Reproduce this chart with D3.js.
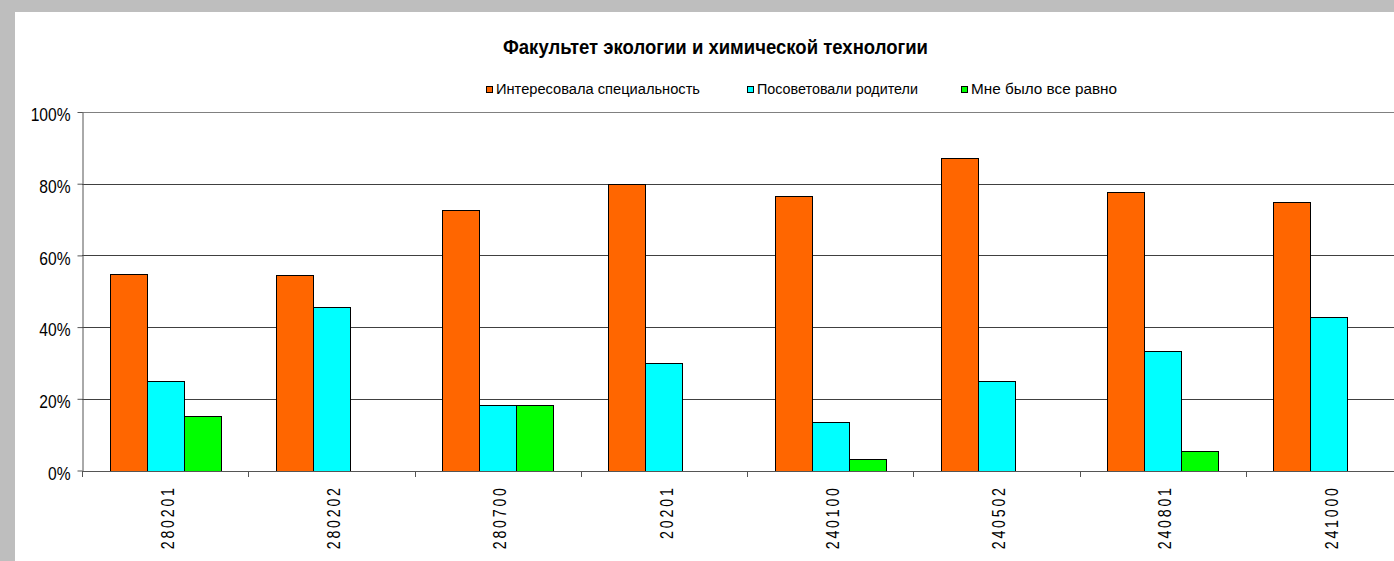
<!DOCTYPE html>
<html lang="ru">
<head>
    <meta charset="UTF-8">
    <title>Факультет экологии и химической технологии</title>
    <script src="https://cdnjs.cloudflare.com/ajax/libs/d3/7.8.5/d3.min.js"></script>
    <style>
        body { margin: 0; background: #bebebe; }
        svg { display: block; font-family: Arial, "Liberation Sans", sans-serif; }
        .grid line { stroke-width: 1px; shape-rendering: crispEdges; }
        .bar { stroke: #000; stroke-width: 1px; shape-rendering: crispEdges; }
    </style>
</head>
<body>
    <svg width="1394" height="561"></svg>

    <script>
        // data (percent)
        const categories = ["280201", "280202", "280700", "20201", "240100", "240502", "240801", "241000"];
        const seriesNames = ["Интересовала специальность", "Посоветовали родители", "Мне было все равно"];
        const interested = [54.8, 54.5, 72.7, 80.0, 76.7, 87.3, 77.7, 75.0];
        const parents    = [25.0, 45.5, 18.2, 30.0, 13.4, 25.0, 33.3, 42.7];
        const indifferent = [15.2, 0, 18.2, 0, 3.3, 0, 5.5, 0];
        const yTicks = [0, 20, 40, 60, 80, 100];
        const colors = ["#ff6600", "#00ffff", "#00ff00"];

        const series = [interested, parents, indifferent];
        const rows = [];
        categories.forEach((c, i) => series.forEach((s, j) => rows.push({ cat: c, key: seriesNames[j], value: s[i] })));

        // the source picture is squeezed sideways, text gets the same treatment
        const squeeze = 0.82;
        function narrow(sel, k) {
            sel.each(function() {
                const w = this.getComputedTextLength();
                d3.select(this).attr("textLength", w * k).attr("lengthAdjust", "spacingAndGlyphs");
            });
        }

        const svg = d3.select("svg");
        svg.append("rect").attr("width", 1394).attr("height", 561).attr("fill", "#bebebe");
        svg.append("rect").attr("x", 15).attr("y", 12).attr("width", 1379).attr("height", 549).attr("fill", "#fff");

        const plotLeft = 82, plotTop = 112, plotBottom = 470.5, plotRight = 1412;

        const x = d3.scaleBand().domain(categories).range([plotLeft, plotRight]).paddingInner(1 / 3).paddingOuter(1 / 6);
        const xs = d3.scaleBand().domain(seriesNames).range([0, x.bandwidth()]);
        const y = d3.scaleLinear().domain([0, 100]).range([plotBottom, plotTop]);

        // gridlines
        svg.append("g").attr("class", "grid")
            .selectAll("line").data(yTicks.filter(t => t > 0)).join("line")
            .attr("x1", plotLeft).attr("x2", 1394)
            .attr("y1", d => Math.round(y(d)) + 0.5).attr("y2", d => Math.round(y(d)) + 0.5)
            .attr("stroke", d => d === 100 ? "#808080" : "#404040");

        // bars
        svg.append("g").selectAll("rect").data(rows.filter(d => d.value > 0)).join("rect")
            .attr("class", "bar")
            .attr("x", d => Math.round(x(d.cat) + xs(d.key)) + 0.5)
            .attr("y", d => Math.round(y(d.value)) + 0.5)
            .attr("width", Math.round(xs.bandwidth()))
            .attr("height", d => Math.round(y(0)) - Math.round(y(d.value)))
            .attr("fill", d => colors[seriesNames.indexOf(d.key)]);

        // y axis
        const yAxis = svg.append("g").attr("transform", `translate(${plotLeft + 0.5},0)`)
            .call(d3.axisLeft(y).tickValues(yTicks).tickFormat(d => d + "%").tickSize(5).tickSizeOuter(0));
        yAxis.select(".domain").attr("stroke", "#555");
        yAxis.selectAll(".tick line").attr("stroke", "#555");
        yAxis.selectAll(".tick text")
            .attr("x", -12).attr("dy", "0.36em").attr("y", 2)
            .attr("font-size", 19).attr("fill", "#000")
            .call(narrow, squeeze);

        // x axis: line, ticks between categories, rotated labels
        const xAxis = svg.append("g");
        xAxis.append("line")
            .attr("x1", plotLeft).attr("x2", 1394)
            .attr("y1", Math.round(plotBottom) + 0.5).attr("y2", Math.round(plotBottom) + 0.5)
            .attr("stroke", "#555");
        const step = x.step();
        xAxis.selectAll(".xtick").data(categories).join("line")
            .attr("class", "xtick")
            .attr("x1", (d, i) => Math.round(plotLeft + i * step) + 0.5)
            .attr("x2", (d, i) => Math.round(plotLeft + i * step) + 0.5)
            .attr("y1", Math.round(plotBottom)).attr("y2", Math.round(plotBottom) + 6)
            .attr("stroke", "#555");
        // thin digits with wide gaps, about 61px long per 6-digit label
        const labelScale = 0.75;
        xAxis.selectAll(".xlabel").data(categories).join("text")
            .attr("class", "xlabel")
            .attr("transform", d => `translate(${x(d) + x.bandwidth() / 2 + 2},488) rotate(-90) scale(${labelScale},1)`)
            .attr("text-anchor", "end").attr("dy", "0.36em")
            .attr("font-size", 19)
            .attr("textLength", d => d.length * 10.2 / labelScale)
            .attr("lengthAdjust", "spacing")
            .text(d => d);

        // title
        svg.append("text")
            .attr("x", 503).attr("y", 54)
            .attr("font-size", 21).attr("font-weight", "bold")
            .attr("textLength", 425).attr("lengthAdjust", "spacingAndGlyphs")
            .text("Факультет экологии и химической технологии");

        // legend
        const legendX = [486, 747, 961];
        const legendW = [204, 161, 146];
        const legend = svg.append("g").selectAll("g").data(seriesNames).join("g")
            .attr("transform", (d, i) => `translate(${legendX[i]},0)`);
        legend.append("rect")
            .attr("x", 0.5).attr("y", 86.5).attr("width", 6).attr("height", 6)
            .attr("fill", (d, i) => colors[i]).attr("stroke", "#000");
        legend.append("text")
            .attr("x", 10).attr("y", 94)
            .attr("font-size", 15.5)
            .attr("textLength", (d, i) => legendW[i]).attr("lengthAdjust", "spacingAndGlyphs")
            .text(d => d);
    </script>
</body>
</html>
